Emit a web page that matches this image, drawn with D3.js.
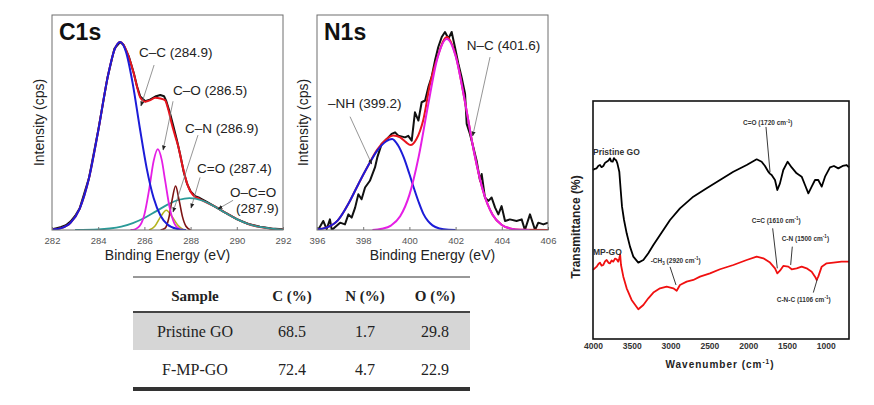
<!DOCTYPE html>
<html><head><meta charset="utf-8">
<script src="https://cdn.jsdelivr.net/npm/d3@7"></script>
<style>body{margin:0;background:#fff}svg{display:block}</style>
</head><body><svg id="c" width="874" height="405"></svg>
<script>
// ---------------- DATA ----------------
// C1s XPS (binding energy eV, normalised intensity)
const c1sTicks = [282, 284, 286, 288, 290, 292];
const c1sMeasured = [[282.0,0.004],[282.2,0.01],[282.4,0.016],[282.6,0.025],[282.8,0.045],[283.0,0.075],[283.2,0.115],[283.6,0.276],[284.0,0.53],[284.4,0.81],[284.7,0.965],[284.95,1.0],[285.1,0.985],[285.32,0.925],[285.54,0.835],[285.68,0.765],[285.82,0.71],[286.04,0.685],[286.26,0.695],[286.47,0.71],[286.69,0.718],[286.85,0.712],[286.95,0.685],[287.1,0.625],[287.25,0.555],[287.4,0.482],[287.55,0.40],[287.7,0.31],[287.85,0.245],[288.0,0.205],[288.2,0.18],[288.4,0.17],[288.7,0.15],[289.0,0.128],[289.5,0.092],[290.0,0.058],[290.5,0.032],[291.0,0.018],[291.5,0.008],[292.0,0.004]];
const c1sEnvelope = [[282.0,0.002],[282.4,0.01],[282.8,0.038],[283.2,0.114],[283.6,0.275],[284.0,0.527],[284.4,0.807],[284.7,0.957],[284.95,1.0],[285.1,0.984],[285.32,0.922],[285.54,0.833],[285.68,0.762],[285.82,0.705],[286.04,0.683],[286.26,0.691],[286.47,0.704],[286.69,0.70],[286.89,0.691],[287.04,0.638],[287.18,0.567],[287.32,0.505],[287.47,0.443],[287.61,0.363],[287.76,0.284],[287.9,0.23],[288.05,0.195],[288.19,0.177],[288.33,0.169],[288.5,0.157],[289.0,0.128],[289.5,0.092],[290.0,0.058],[290.5,0.032],[291.0,0.016],[291.5,0.007],[292.0,0.002]];
const c1sCC  = [[282.0,0.002],[282.4,0.01],[282.8,0.038],[283.2,0.114],[283.6,0.275],[284.0,0.527],[284.4,0.807],[284.7,0.957],[284.95,1.0],[285.2,0.949],[285.5,0.775],[285.8,0.544],[286.1,0.328],[286.4,0.17],[286.7,0.076],[287.0,0.029],[287.4,0.006],[287.8,0.0]];
const c1sCO  = [[285.4,0],[285.6,0.004],[285.8,0.022],[286.0,0.083],[286.2,0.212],[286.4,0.367],[286.58,0.43],[286.75,0.373],[286.9,0.261],[287.1,0.115],[287.3,0.034],[287.5,0.007],[287.7,0]];
const c1sCN  = [[286.2,0],[286.45,0.02],[286.7,0.07],[286.95,0.105],[287.2,0.07],[287.45,0.025],[287.7,0]];
const c1sCdO = [[286.7,0],[286.9,0.01],[287.05,0.06],[287.2,0.16],[287.35,0.234],[287.5,0.16],[287.65,0.07],[287.8,0.02],[288.0,0]];
const c1sOCO = [[283.0,0],[284.0,0.003],[284.5,0.008],[285.0,0.018],[285.5,0.037],[286.0,0.064],[286.5,0.099],[287.0,0.135],[287.5,0.161],[287.95,0.17],[288.5,0.157],[289.0,0.128],[289.5,0.092],[290.0,0.058],[290.5,0.032],[291.0,0.016],[291.5,0.007],[292.0,0.002]];

// N1s XPS
const n1sTicks = [396, 398, 400, 402, 404, 406];
const n1sMeasured = [[396.0,0.01],[396.06,0.003],[396.27,0.047],[396.42,0.005],[396.56,0.055],[396.64,0.0],[397.0,0.038],[397.21,0.029],[397.36,0.081],[397.5,0.064],[397.65,0.116],[397.79,0.185],[397.93,0.159],[398.08,0.22],[398.29,0.255],[398.51,0.324],[398.61,0.376],[398.8,0.446],[399.02,0.471],[399.23,0.498],[399.38,0.506],[399.52,0.489],[399.81,0.48],[399.95,0.488],[400.1,0.463],[400.24,0.61],[400.39,0.567],[400.53,0.662],[400.68,0.671],[400.82,0.74],[400.96,0.792],[401.11,0.879],[401.25,0.948],[401.4,1.0],[401.54,1.026],[401.69,0.992],[401.83,1.026],[401.97,0.948],[402.12,0.862],[402.26,0.792],[402.41,0.706],[402.48,0.55],[402.62,0.498],[402.77,0.428],[402.91,0.359],[403.06,0.255],[403.13,0.29],[403.27,0.168],[403.42,0.151],[403.56,0.168],[403.71,0.116],[403.85,0.081],[403.99,0.124],[404.14,0.047],[404.35,0.055],[404.64,0.047],[404.86,0.055],[405.0,0.0],[405.22,0.081],[405.44,0.0],[405.58,0.038],[405.8,0.029],[406.0,0.038]];
const n1sEnvelope = [[396.0,0.003],[396.4,0.012],[396.9,0.05],[397.4,0.145],[397.8,0.24],[398.2,0.33],[398.6,0.415],[399.0,0.47],[399.3,0.49],[399.6,0.48],[399.85,0.455],[400.05,0.44],[400.3,0.47],[400.6,0.57],[400.9,0.76],[401.2,0.89],[401.62,1.0],[402.0,0.905],[402.4,0.668],[402.8,0.403],[403.2,0.198],[403.6,0.079],[404.0,0.026],[404.4,0.007],[404.8,0.001],[406.0,0]];
const n1sNH = [[396.0,0.003],[396.4,0.012],[396.9,0.05],[397.4,0.145],[397.8,0.24],[398.2,0.33],[398.6,0.41],[399.0,0.46],[399.25,0.472],[399.5,0.44],[399.75,0.377],[400.0,0.29],[400.2,0.215],[400.4,0.145],[400.6,0.085],[400.8,0.047],[401.0,0.024],[401.3,0.008],[401.7,0.001],[402.0,0]];
const n1sNC = [[398.4,0],[398.8,0.006],[399.2,0.023],[399.6,0.071],[400.0,0.182],[400.4,0.379],[400.8,0.641],[401.2,0.884],[401.62,0.99],[402.0,0.902],[402.4,0.668],[402.8,0.403],[403.2,0.198],[403.6,0.079],[404.0,0.026],[404.4,0.007],[404.8,0.001],[405.2,0]];

// FTIR (wavenumber cm-1, transmittance in arbitrary %)
const ftirTicks = [4000, 3500, 3000, 2500, 2000, 1500, 1000];
const pristineGO = [[4000,71.0],[3975,71.5],[3953,71.7],[3930,72.8],[3910,73.1],[3890,72.2],[3867,72.7],[3845,74.0],[3824,74.5],[3800,75.0],[3781,75.9],[3765,74.6],[3746,74.5],[3730,76.0],[3716,75.5],[3700,75.0],[3686,73.8],[3661,70.3],[3643,62.6],[3626,55.6],[3600,50.0],[3566,44.4],[3523,38.8],[3480,34.6],[3416,32.1],[3351,33.2],[3287,36.0],[3222,39.5],[3136,43.7],[3007,50.0],[2879,54.9],[2707,59.8],[2535,63.3],[2363,66.8],[2191,70.3],[2019,73.1],[1890,75.5],[1826,74.5],[1783,72.7],[1740,70.3],[1720,69.5],[1697,68.9],[1654,66.8],[1624,62.6],[1590,65.4],[1547,71.0],[1491,74.5],[1439,72.1],[1375,69.6],[1310,68.2],[1267,64.7],[1224,61.2],[1181,64.0],[1138,66.8],[1096,66.8],[1052,64.0],[1009,68.2],[945,72.1],[894,72.7],[838,71.7],[782,72.7],[730,73.1],[700,72.1]];
const mpGO = [[4000,29.0],[3975,29.8],[3953,30.4],[3930,31.5],[3910,32.1],[3890,30.8],[3867,31.1],[3845,32.6],[3824,33.2],[3800,32.0],[3781,31.8],[3760,33.0],[3738,32.5],[3715,33.8],[3695,33.5],[3675,32.5],[3661,33.9],[3650,35.5],[3639,31.1],[3609,26.2],[3566,21.3],[3502,16.4],[3416,12.5],[3351,14.3],[3287,17.1],[3222,19.5],[3136,21.3],[3050,22.0],[2965,21.3],[2921,20.3],[2879,22.7],[2793,24.1],[2707,24.8],[2621,26.2],[2492,27.6],[2363,29.3],[2191,31.1],[2019,33.2],[1890,34.6],[1804,33.9],[1718,32.1],[1654,29.7],[1624,27.6],[1590,28.7],[1547,30.7],[1482,30.4],[1439,29.3],[1375,29.7],[1310,30.4],[1246,29.7],[1181,28.3],[1138,26.2],[1117,24.8],[1096,26.2],[1052,30.4],[988,31.8],[902,32.1],[795,32.5],[700,32.5]];

// Table
const tableHeader = ["Sample", "C (%)", "N (%)", "O (%)"];
const tableSamples = ["Pristine GO", "F-MP-GO"];
const tableC = [68.5, 72.4];
const tableN = [1.7, 4.7];
const tableO = [29.8, 22.9];

// ---------------- DRAW ----------------
const SANS = "'Liberation Sans', Arial, sans-serif";
const SERIF = "'Liberation Serif', 'Times New Roman', serif";
const svg = d3.select('#c');
svg.append('rect').attr('width', 874).attr('height', 405).attr('fill', '#fff');
const defs = svg.append('defs');
defs.append('marker').attr('id', 'ah').attr('viewBox', '0 0 10 10').attr('refX', 9).attr('refY', 5)
  .attr('markerUnits', 'userSpaceOnUse').attr('markerWidth', 5).attr('markerHeight', 5).attr('orient', 'auto')
  .append('path').attr('d', 'M0,1L10,5L0,9z').attr('fill', '#222');

function xpsPanel(o) {
  const x = d3.scaleLinear().domain(o.xd).range([o.x0, o.x1]);
  const y = d3.scaleLinear().domain(o.yd).range([o.y1, o.y0]);
  const g = svg.append('g');
  defs.append('clipPath').attr('id', 'clip' + o.name).append('rect')
    .attr('x', o.x0).attr('y', o.y0).attr('width', o.x1 - o.x0).attr('height', o.y1 - o.y0);
  const pg = g.append('g').attr('clip-path', `url(#clip${o.name})`);
  o.series.forEach(s => {
    pg.append('path').datum(s.data).attr('fill', 'none').attr('stroke', s.color)
      .attr('stroke-width', s.w).attr('stroke-linejoin', 'round')
      .attr('d', d3.line().x(d => x(d[0])).y(d => y(d[1])).curve(s.smooth ? d3.curveMonotoneX : d3.curveLinear));
  });
  g.append('rect').attr('x', o.x0).attr('y', o.y0).attr('width', o.x1 - o.x0).attr('height', o.y1 - o.y0)
    .attr('fill', 'none').attr('stroke', '#6e6e6e').attr('stroke-width', 1);
  const ax = g.append('g').attr('transform', `translate(0,${o.y1})`)
    .call(d3.axisBottom(x).tickValues(o.ticks).tickSizeInner(-3).tickSizeOuter(0).tickPadding(7).tickFormat(d3.format('d')));
  ax.select('.domain').remove();
  ax.selectAll('line').attr('stroke', '#777');
  ax.selectAll('text').attr('font-family', SANS).attr('font-size', 9.5).attr('fill', '#555');
  g.append('text').attr('x', (o.x0 + o.x1) / 2).attr('y', 260).attr('text-anchor', 'middle')
    .attr('font-family', SANS).attr('font-size', 14).attr('fill', '#222').text('Binding Energy (eV)');
  g.append('text').attr('transform', `translate(${o.ytx},${(o.y0 + o.y1) / 2}) rotate(-90)`).attr('text-anchor', 'middle')
    .attr('font-family', SANS).attr('font-size', 14).attr('fill', '#222').text('Intensity (cps)');
  g.append('text').attr('x', o.x0 + 7).attr('y', 40).attr('font-family', SANS).attr('font-size', 23)
    .attr('font-weight', 'bold').attr('fill', '#111').text(o.name);
  o.notes.forEach(n => {
    g.append('line').attr('x1', x(n.from[0])).attr('y1', y(n.from[1])).attr('x2', x(n.to[0])).attr('y2', y(n.to[1]))
      .attr('stroke', '#7a7a7a').attr('stroke-width', 0.8).attr('marker-end', 'url(#ah)');
    n.lines.forEach((t, i) => {
      g.append('text').attr('x', x(t.at[0])).attr('y', y(t.at[1])).attr('font-family', SANS)
        .attr('font-size', 13.5).attr('fill', '#222').text(t.s);
    });
  });
  return { x, y };
}

xpsPanel({
  name: 'C1s', xd: [282, 292], yd: [0, 1.144], x0: 52, x1: 283, y0: 15, y1: 230, ytx: 44, ticks: c1sTicks,
  series: [
    { data: c1sMeasured, color: '#111', w: 2, smooth: false },
    { data: c1sEnvelope, color: '#e8141e', w: 2, smooth: true },
    { data: c1sOCO, color: '#2a9a98', w: 1.8, smooth: true },
    { data: c1sCN, color: '#b4b41e', w: 1.6, smooth: true },
    { data: c1sCdO, color: '#7e1414', w: 1.6, smooth: true },
    { data: c1sCO, color: '#e51ee5', w: 1.8, smooth: true },
    { data: c1sCC, color: '#1c1cd8', w: 2, smooth: true }
  ],
  notes: [
    { lines: [{ s: 'C\u2013C (284.9)', at: [285.77, 0.92] }], from: [286.42, 0.878], to: [285.85, 0.66] },
    { lines: [{ s: 'C\u2013O (286.5)', at: [287.24, 0.718] }], from: [287.24, 0.685], to: [286.81, 0.426] },
    { lines: [{ s: 'C\u2013N (286.9)', at: [287.76, 0.516] }], from: [288.32, 0.505], to: [287.24, 0.096] },
    { lines: [{ s: 'C=O (287.4)', at: [288.28, 0.303] }], from: [288.41, 0.28], to: [288.02, 0.117] },
    { lines: [{ s: 'O\u2013C=O', at: [289.71, 0.176] }, { s: '(287.9)', at: [289.97, 0.09] }], from: [289.84, 0.158], to: [289.19, 0.112] }
  ]
});

xpsPanel({
  name: 'N1s', xd: [396, 406], yd: [0, 1.114], x0: 317, x1: 548, y0: 15, y1: 230, ytx: 308, ticks: n1sTicks,
  series: [
    { data: n1sMeasured, color: '#111', w: 2, smooth: false },
    { data: n1sEnvelope, color: '#e8141e', w: 2, smooth: true },
    { data: n1sNH, color: '#1c1cd8', w: 2, smooth: true },
    { data: n1sNC, color: '#e51ee5', w: 2, smooth: true }
  ],
  notes: [
    { lines: [{ s: 'N\u2013C (401.6)', at: [402.48, 0.933] }], from: [403.49, 0.896], to: [402.74, 0.487] },
    { lines: [{ s: '\u2013NH (399.2)', at: [396.48, 0.632] }], from: [397.43, 0.587], to: [398.37, 0.342] }
  ]
});

// ---- FTIR ----
(function () {
  const X0 = 593, X1 = 849, Y0 = 101, Y1 = 339;
  const x = d3.scaleLinear().domain([4000, 700]).range([X0, X1]);
  const y = d3.scaleLinear().domain([0, 100]).range([Y1, Y0]);
  const g = svg.append('g');
  const line = d3.line().x(d => x(d[0])).y(d => y(d[1]));
  g.append('path').datum(pristineGO).attr('fill', 'none').attr('stroke', '#000').attr('stroke-width', 1.8).attr('stroke-linejoin', 'round').attr('d', line);
  g.append('path').datum(mpGO).attr('fill', 'none').attr('stroke', '#f01010').attr('stroke-width', 1.8).attr('stroke-linejoin', 'round').attr('d', line);
  g.append('rect').attr('x', X0).attr('y', Y0).attr('width', X1 - X0).attr('height', Y1 - Y0)
    .attr('fill', 'none').attr('stroke', '#111').attr('stroke-width', 1.6);
  const ax = g.append('g').attr('transform', `translate(0,${Y1})`)
    .call(d3.axisBottom(x).tickValues(ftirTicks).tickSize(0).tickPadding(4).tickFormat(d3.format('d')));
  ax.select('.domain').remove();
  ax.selectAll('text').attr('font-family', SANS).attr('font-size', 8.5).attr('font-weight', 'bold').attr('fill', '#333');
  const xt = g.append('text').attr('x', (X0 + X1) / 2 - 1).attr('y', 368).attr('text-anchor', 'middle')
    .attr('font-family', SANS).attr('font-size', 10).attr('font-weight', 'bold').attr('letter-spacing', 1).attr('fill', '#222');
  xt.append('tspan').text('Wavenumber (cm');
  xt.append('tspan').attr('dy', -4).attr('font-size', 6.5).text('-1');
  xt.append('tspan').attr('dy', 4).text(')');
  g.append('text').attr('transform', `translate(580,${(Y0 + Y1) / 2 + 7}) rotate(-90)`).attr('text-anchor', 'middle')
    .attr('font-family', SANS).attr('font-size', 12).attr('font-weight', 'bold').attr('fill', '#222').text('Transmittance (%)');

  const lab = (wn, v, parts, size) => {
    const t = g.append('text').attr('x', x(wn)).attr('y', y(v)).attr('font-family', SANS)
      .attr('font-size', size).attr('font-weight', 'bold').attr('fill', '#333');
    parts.forEach(p => {
      const ts = t.append('tspan').text(p.t);
      if (p.sup) ts.attr('dy', -2.5).attr('font-size', size * 0.7);
      if (p.sub) ts.attr('dy', 2).attr('font-size', size * 0.7);
      if (p.back) ts.attr('dy', p.back);
    });
  };
  const lead = (a, b) => g.append('line').attr('x1', x(a[0])).attr('y1', y(a[1])).attr('x2', x(b[0])).attr('y2', y(b[1]))
    .attr('stroke', '#222').attr('stroke-width', 0.9);

  lab(4000, 77.3, [{ t: 'Pristine GO' }], 8.5);
  lab(4000, 35.3, [{ t: 'MP-GO' }], 8.5);
  lab(2067, 89.9, [{ t: 'C=O (1720 cm' }, { t: '-1', sup: true }, { t: ')', back: 2.5 }], 6.5);
  lead([1770, 89.1], [1718, 70.2]);
  lab(3256, 32.1, [{ t: '-CH' }, { t: '3', sub: true }, { t: ' (2920 cm', back: -2 }, { t: '-1', sup: true }, { t: ')', back: 2.5 }], 6.5);
  lead([3007, 30.3], [2930, 22.7]);
  lab(1954, 48.9, [{ t: 'C=C (1610 cm' }, { t: '-1', sup: true }, { t: ')', back: 2.5 }], 6.5);
  lead([1684, 46.5], [1624, 29.7]);
  lab(1568, 41.3, [{ t: 'C-N (1500 cm' }, { t: '-1', sup: true }, { t: ')', back: 2.5 }], 6.5);
  lead([1431, 38.8], [1452, 31.1]);
  lab(1632, 15.7, [{ t: 'C-N-C (1106 cm' }, { t: '-1', sup: true }, { t: ')', back: 2.5 }], 6.5);
  lead([1109, 25.1], [1160, 19.5]);
})();

// ---- Table ----
(function () {
  const colX = [195, 292, 365, 435];
  const L = 133, R = 470;
  const g = svg.append('g');
  const rowY = d3.scaleBand().domain(tableSamples).range([312, 388]);
  g.append('rect').attr('x', L).attr('y', rowY(tableSamples[0])).attr('width', R - L).attr('height', rowY.bandwidth())
    .attr('fill', '#d6d6d6');
  g.append('line').attr('x1', L).attr('x2', R).attr('y1', 277).attr('y2', 277).attr('stroke', '#333').attr('stroke-width', 1);
  g.append('line').attr('x1', L).attr('x2', R).attr('y1', 312).attr('y2', 312).attr('stroke', '#444').attr('stroke-width', 2);
  g.append('line').attr('x1', L).attr('x2', R).attr('y1', 389).attr('y2', 389).attr('stroke', '#333').attr('stroke-width', 4);
  tableHeader.forEach((h, i) => {
    g.append('text').attr('x', colX[i]).attr('y', 301).attr('text-anchor', 'middle').attr('font-family', SERIF)
      .attr('font-size', 15).attr('font-weight', 'bold').attr('fill', '#222').text(h);
  });
  tableSamples.forEach((s, r) => {
    const yy = rowY(s) + rowY.bandwidth() / 2 + 5.5;
    [s, tableC[r].toFixed(1), tableN[r].toFixed(1), tableO[r].toFixed(1)].forEach((v, i) => {
      g.append('text').attr('x', colX[i]).attr('y', yy).attr('text-anchor', 'middle').attr('font-family', SERIF)
        .attr('font-size', 16).attr('fill', '#222').text(v);
    });
  });
})();
</script></body></html>
